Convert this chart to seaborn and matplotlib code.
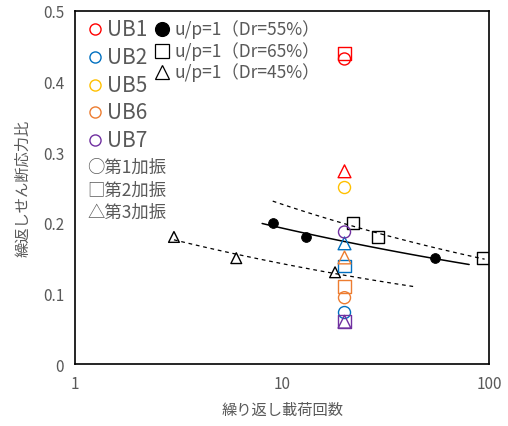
import seaborn as sns
import matplotlib.pyplot as plt
import matplotlib.ticker as mticker
import numpy as np
import pandas as pd

# u/p=1 reference tests (black)
n_dr55 = [9, 13, 55]
r_dr55 = [0.20, 0.18, 0.15]
n_dr65 = [22, 29, 93]
r_dr65 = [0.20, 0.18, 0.15]
n_dr45 = [3, 6, 18]
r_dr45 = [0.18, 0.15, 0.13]

# trend line extents (cycles)
fit55_range = [8, 80]
fit65_range = [9, 95]
fit45_range = [3, 43]

# UB specimens, all at N=20
ub_names = ['UB1', 'UB2', 'UB5', 'UB6', 'UB7']
ub_colors = ['#FF0000', '#0070C0', '#FFC000', '#ED7D31', '#7030A0']
ub_n = 20
ub_1st = [0.432, 0.073, 0.250, 0.094, 0.187]   # circles
ub_2nd = [0.440, 0.139, np.nan, 0.110, 0.060]  # squares
ub_3rd = [0.273, 0.171, np.nan, 0.151, 0.060]  # triangles

gray = '#595959'

sns.set_style('white')
plt.rcParams['font.family'] = ['Noto Sans CJK JP', 'DejaVu Sans']

fig = plt.figure(figsize=(5.08, 4.27), dpi=100)
ax = fig.add_axes([0.148, 0.145, 0.815, 0.827])


def power_fit(n, r, rng):
    b, a = np.polyfit(np.log10(n), np.log10(r), 1)
    xs = np.logspace(np.log10(rng[0]), np.log10(rng[1]), 50)
    return pd.DataFrame({'N': xs, 'R': 10 ** (a + b * np.log10(xs))})


sns.lineplot(data=power_fit(n_dr55, r_dr55, fit55_range), x='N', y='R', ax=ax,
             color='black', lw=1.1)
for n, r, rng in [(n_dr65, r_dr65, fit65_range), (n_dr45, r_dr45, fit45_range)]:
    sns.lineplot(data=power_fit(n, r, rng), x='N', y='R', ax=ax,
                 color='black', lw=0.9, linestyle=(0, (3, 3)))

sns.scatterplot(x=n_dr55, y=r_dr55, ax=ax, marker='o', s=50, color='black',
                edgecolor='black', zorder=5)
sns.scatterplot(x=n_dr65, y=r_dr65, ax=ax, marker='s', s=75, facecolor='none',
                edgecolor='black', linewidth=1, zorder=5)
sns.scatterplot(x=n_dr45, y=r_dr45, ax=ax, marker='^', s=60, facecolor='none',
                edgecolor='black', linewidth=1, zorder=5)

for i, c in enumerate(ub_colors):
    for vals, m, s in [(ub_1st, 'o', 75), (ub_2nd, 's', 80), (ub_3rd, '^', 85)]:
        if not np.isnan(vals[i]):
            sns.scatterplot(x=[ub_n], y=[vals[i]], ax=ax, marker=m, s=s,
                            facecolor='none', edgecolor=c, linewidth=1, zorder=6)

ax.set_xscale('log')
ax.set_xlim(1, 100)
ax.set_ylim(0, 0.5)
ax.yaxis.set_major_locator(mticker.MultipleLocator(0.1))
ax.xaxis.set_major_formatter(mticker.FuncFormatter(lambda v, p: f'{v:g}'))
ax.yaxis.set_major_formatter(mticker.FuncFormatter(lambda v, p: f'{v:g}'))
ax.xaxis.set_minor_locator(mticker.LogLocator(subs=np.arange(2, 10)))
ax.tick_params(axis='both', which='both', direction='in', colors='black',
               labelcolor=gray, labelsize=11)
ax.tick_params(which='major', length=5, width=1)
ax.tick_params(which='minor', length=4, width=0.8)
ax.tick_params(axis='x', pad=8)
ax.tick_params(axis='y', pad=8)
for sp in ax.spines.values():
    sp.set_color('black')
    sp.set_linewidth(1.2)

ax.set_xlabel('繰り返し載荷回数', color=gray, fontsize=11, labelpad=6)
ax.set_ylabel('繰返しせん断応力比', color=gray, fontsize=11, labelpad=8)
ax.set_facecolor('white')

# legend drawn as text, Excel style
for i, (name, c) in enumerate(zip(ub_names, ub_colors)):
    y = 30 + i * 27.8
    fig.lines.append(plt.Line2D([95 / 508], [1 - y / 427], marker='o', ms=8,
                                mfc='none', mec=c, mew=1, transform=fig.transFigure))
    fig.text(107 / 508, 1 - y / 427, name, color=gray, fontsize=15, va='center')

leg_ref = [('o', 'black', 'u/p=1（Dr=55%）', 10), ('s', 'none', 'u/p=1（Dr=65%）', 9.5),
           ('^', 'none', 'u/p=1（Dr=45%）', 10.5)]
for i, (m, fc, lab, ms) in enumerate(leg_ref):
    y = 30 + i * 21.5
    fig.lines.append(plt.Line2D([162 / 508], [1 - y / 427], marker=m, ms=ms,
                                mfc=fc, mec='black', mew=0.9, transform=fig.transFigure))
    fig.text(175 / 508, 1 - y / 427, lab, color=gray, fontsize=12.5, va='center')

for i, lab in enumerate(['○第1加振', '□第2加振', '△第3加振']):
    y = 168 + i * 22.5
    fig.text(87 / 508, 1 - y / 427, lab, color=gray, fontsize=12.5, va='center')

fig.savefig('out.png', dpi=100)
